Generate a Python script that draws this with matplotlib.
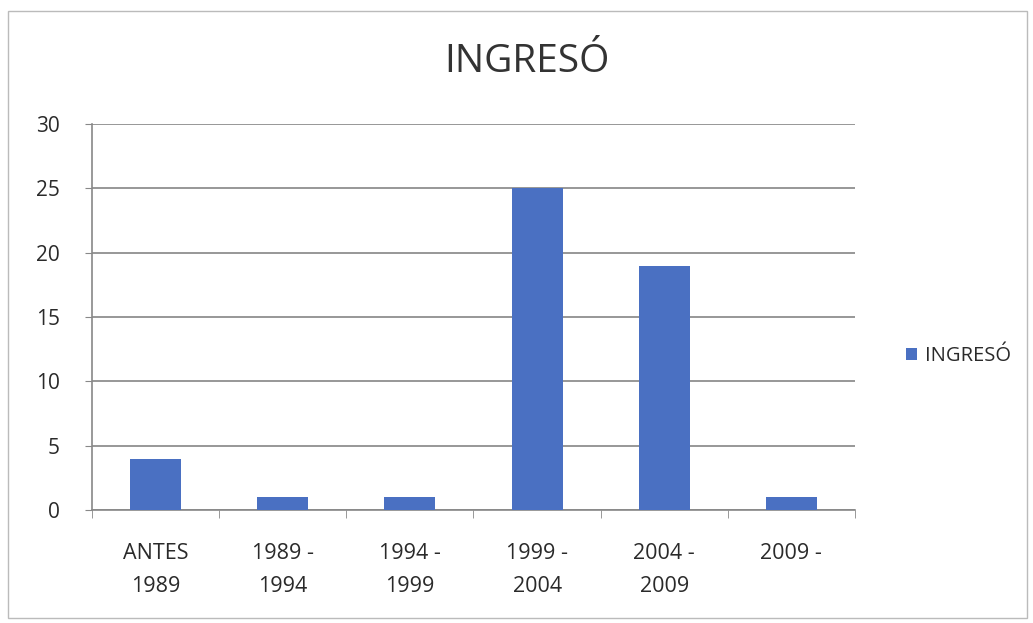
import matplotlib
matplotlib.use("Agg")
import matplotlib.pyplot as plt
from matplotlib.patches import Rectangle

categories = ["ANTES\n1989", "1989 -\n1994", "1994 -\n1999", "1999 -\n2004", "2004 -\n2009", "2009 -"]
values = [4, 1, 1, 25, 19, 1]
series_name = "INGRESÓ"
yticks = [0, 5, 10, 15, 20, 25, 30]

plt.rcParams['font.family'] = ['Open Sans', 'DejaVu Sans']

W, H = 1033, 623
fig = plt.figure(figsize=(W / 100, H / 100), dpi=100)
ax = fig.add_axes([92 / W, 1 - 510 / H, (855 - 92) / W, (510 - 124) / H])

x = list(range(len(categories)))
bars = ax.bar(x, values, width=0.4, color="#4A70C2", label=series_name, zorder=3)

ax.set_xlim(-0.5, len(categories) - 0.5)
ax.set_ylim(0, 30)
ax.set_yticks(yticks)
ax.set_yticklabels([str(t) for t in yticks], fontsize=15, color="#2a2a2a")
ax.set_xticks(x)
ax.set_xticklabels(categories, fontsize=15.5, color="#2a2a2a", linespacing=1.7)
ax.tick_params(axis='x', length=0, pad=24)
ax.tick_params(axis='y', length=5, direction='out', color="#888888", pad=18)
ax.set_xticks([i + 0.5 for i in range(-1, len(categories))], minor=True)
ax.tick_params(axis='x', which='minor', length=6, direction='out', color="#888888")

ax.grid(axis='y', color="#8f8f8f", linewidth=1.3, zorder=0)
for s in ["top", "right"]:
    ax.spines[s].set_visible(False)
ax.spines["left"].set_color("#888888")
ax.spines["bottom"].set_color("#888888")
ax.spines["left"].set_linewidth(1.2)
ax.spines["bottom"].set_linewidth(1.2)

fig.text(527 / W, 1 - 62 / H, "INGRESÓ", fontsize=28, color="#333333",
         ha="center", va="center")

leg = fig.legend(handles=[bars], labels=[series_name], loc="center left",
                 bbox_to_anchor=(888 / W, 1 - 356 / H), frameon=False,
                 fontsize=14.5, handlelength=0.55, handleheight=0.55, handletextpad=0.4)
for t in leg.get_texts():
    t.set_color("#2a2a2a")

fig.patches.append(Rectangle((8 / W, 5 / H), (W - 14) / W, (H - 16) / H,
                             transform=fig.transFigure, fill=False,
                             edgecolor="#bbbbbb", linewidth=1.0))

fig.savefig("out.png", dpi=100, facecolor="white")
